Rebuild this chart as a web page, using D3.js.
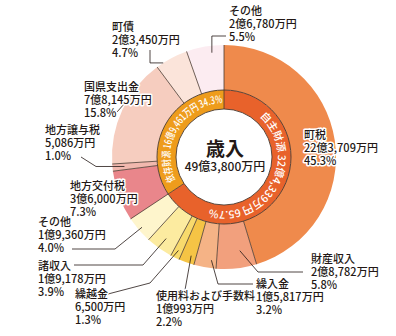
<!DOCTYPE html>
<html>
<head>
<meta charset="utf-8">
<script src="https://cdn.jsdelivr.net/npm/d3@7"></script>
<style>
  html, body { margin: 0; padding: 0; background: #fff; }
  svg { display: block; font-family: "Noto Sans CJK JP", "Noto Sans", sans-serif; }
</style>
</head>
<body>
<svg id="chart" width="396" height="336"></svg>
<script>
// 歳入の内訳（単位：万円）
const items = ["町税", "財産収入", "繰入金", "使用料および手数料", "繰越金", "諸収入", "その他",
               "地方交付税", "地方譲与税", "国県支出金", "町債", "その他"];
const values = [223709, 28782, 15817, 10993, 6500, 19178, 19360,
                36000, 5086, 78145, 23450, 26780];
const shares = [45.3, 5.8, 3.2, 2.2, 1.3, 3.9, 4.0, 7.3, 1.0, 15.8, 4.7, 5.5];
const groupOf = [0, 0, 0, 0, 0, 0, 0, 1, 1, 1, 1, 1];
const groups = ["自主財源", "依存財源"];
const groupShares = [65.7, 34.3];
const centerTitle = "歳入";

// 色
const itemColors = ["#EF8A4C", "#F2A07D", "#F5B386", "#F5C445", "#F8DA6C", "#FCEBA0", "#FEF5CC",
                    "#E9868B", "#F1B8AE", "#F6CDBF", "#FBE4DA", "#FCECF1"];
const groupColors = ["#E8622B", "#EE9C1C"];

const cx = 224, cy = 157, rHole = 48, rInner = 67, rOuter = 112;
const ink = "#231815", lineColor = "#4a3a30";

const fmt = v => {
  const oku = Math.floor(v / 10000), man = v % 10000;
  return (oku ? oku + "億" : "") + (man ? d3.format(",")(man) : "") + "万円";
};
const pt = (a, r) => [cx + r * Math.sin(a), cy - r * Math.cos(a)];

const svg = d3.select("#chart");
svg.append("rect").attr("width", 396).attr("height", 336).attr("fill", "#fff");
const g = svg.append("g").attr("transform", `translate(${cx},${cy})`);

const arcs = d3.pie().sort(null).value(d => d)(values);
const groupTotals = groups.map((_, k) => d3.sum(values.filter((v, j) => groupOf[j] === k)));
const gArcs = d3.pie().sort(null).value(d => d)(groupTotals);

// 外側：項目別
g.selectAll("path.item").data(arcs).join("path")
  .attr("class", "item")
  .attr("d", d3.arc().innerRadius(rInner).outerRadius(rOuter))
  .attr("fill", (d, i) => itemColors[i]);

// 内側：財源区分
g.selectAll("path.group").data(gArcs).join("path")
  .attr("class", "group")
  .attr("d", d3.arc().innerRadius(rHole).outerRadius(rInner))
  .attr("fill", (d, i) => groupColors[i]);

// 区切り線
const groupStarts = gArcs.map(d => d.startAngle);
const seps = arcs.map(d => d.startAngle);
svg.append("g").selectAll("line").data(seps).join("line")
  .each(function (a) {
    const isGroup = groupStarts.some(b => Math.abs(b - a) < 1e-9);
    const p0 = pt(a, isGroup ? rHole : rInner), p1 = pt(a, rOuter);
    d3.select(this).attr("x1", p0[0]).attr("y1", p0[1]).attr("x2", p1[0]).attr("y2", p1[1]);
  })
  .attr("stroke", lineColor).attr("stroke-width", 0.8);
g.selectAll("circle.ring").data([rHole, rInner]).join("circle")
  .attr("r", d => d).attr("fill", "none")
  .attr("stroke", lineColor).attr("stroke-width", 0.9);

// 財源区分の円弧ラベル
const textSpan = [154, 114];
const rText = 54;
const defs = svg.append("defs");
gArcs.forEach((d, k) => {
  const mid = (d.startAngle + d.endAngle) / 2 + (k === 1 ? 0.05 : 0);
  const half = textSpan[k] * Math.PI / 360;
  const a0 = mid - half, a1 = mid + half;
  const p0 = pt(a0, rText), p1 = pt(a1, rText);
  const large = (a1 - a0) > Math.PI ? 1 : 0;
  defs.append("path").attr("id", "gpath" + k)
    .attr("d", `M${p0[0]},${p0[1]} A${rText},${rText} 0 ${large} 1 ${p1[0]},${p1[1]}`);
  svg.append("text")
    .attr("fill", "#fff").attr("font-size", 10.5).attr("font-weight", 500)
    .append("textPath")
    .attr("href", "#gpath" + k)
    .attr("textLength", (a1 - a0) * rText)
    .attr("lengthAdjust", k === 0 ? "spacing" : "spacingAndGlyphs")
    .text(`${groups[k]} ${fmt(groupTotals[k])} ${groupShares[k].toFixed(1)}%`);
});

// 中央
svg.append("text").attr("x", cx + 1).attr("y", cy - 1)
  .attr("text-anchor", "middle").attr("font-size", 19).attr("font-weight", "bold")
  .attr("fill", ink).text(centerTitle);
svg.append("text").attr("x", cx + 1).attr("y", cy + 14)
  .attr("text-anchor", "middle").attr("font-size", 12).attr("font-weight", 500)
  .attr("fill", ink).text(fmt(d3.sum(values)));

// 項目ラベルの配置と引出線
const labelLayout = [
  { x: 304, y: 139 },
  { x: 311, y: 263, lead: [[303, 272], [258, 272]], tip: [0.35, 95] },
  { x: 256, y: 288, lead: [[253, 284], [218, 284]], tip: [0.25, 104] },
  { x: 156, y: 300, lead: [[185, 290]], tip: [0.35, 104] },
  { x: 75, y: 298, lead: [[108, 294], [150, 283]], tip: [0.5, 104] },
  { x: 38, y: 270, lead: [[74, 265], [143, 265]], tip: [0.5, 100] },
  { x: 38, y: 226, lead: [[72, 249], [115, 249]], tip: [0.5, 108] },
  { x: 70, y: 190 },
  { x: 45, y: 134, lead: [[81, 157], [96, "tip"]], tip: [0.5, 100] },
  { x: 84, y: 91, lead: [[117, 112]], tip: [0.6, 112] },
  { x: 112, y: 31, lead: [[150, 50], [150, "tip"]], tip: [0.22, 112] },
  { x: 229, y: 15, lead: [[226, 36], ["tip", 36]], tip: [0.66, 105] }
];

const leaderLine = d3.line();
labelLayout.forEach((L, i) => {
  if (!L.lead) return;
  const a = arcs[i];
  const tip = pt(a.startAngle + L.tip[0] * (a.endAngle - a.startAngle), L.tip[1]);
  const pts = L.lead.map(([x, y]) => [x === "tip" ? tip[0] : x, y === "tip" ? tip[1] : y]);
  pts.push(tip);
  svg.append("path").attr("d", leaderLine(pts))
    .attr("fill", "none").attr("stroke", ink).attr("stroke-width", 0.8);
});

const lh = 13;
labelLayout.forEach((L, i) => {
  const t = svg.append("text")
    .attr("font-size", 11).attr("font-weight", 500).attr("fill", ink)
    .attr("stroke", "#fff").attr("stroke-width", 3)
    .attr("stroke-linejoin", "round").attr("paint-order", "stroke");
  [items[i], fmt(values[i]), shares[i].toFixed(1) + "%"].forEach((s, j) => {
    t.append("tspan").attr("x", L.x).attr("y", L.y + j * lh).text(s);
  });
});
</script>
</body>
</html>
